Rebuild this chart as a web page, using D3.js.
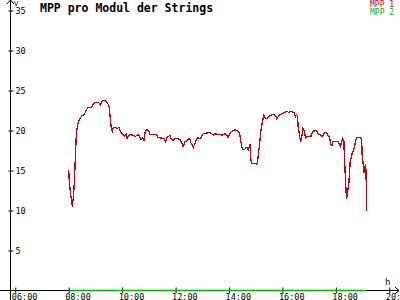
<!DOCTYPE html>
<html><head><meta charset="utf-8">
<script src="https://cdn.jsdelivr.net/npm/d3@7"></script>
<style>body{margin:0;background:#fff}svg{display:block}text{font-family:"DejaVu Sans Mono",monospace}</style>
</head><body><svg id="c" width="400" height="300"></svg>
<script>
const title = "MPP pro Modul der Strings";
const seriesNames = ["MPP 1", "MPP 2"];
const seriesColors = ["#c8000a", "#00b400"];
const yTicks = [5, 10, 15, 20, 25, 30, 35];
const xTicks = [360, 480, 600, 720, 840, 960, 1080, 1200];
const xTickLabels = ["06:00","08:00","10:00","12:00","14:00","16:00","18:00","20:00"];
// minutes since midnight
const minutes = [480,481,483,485,487,488,491,493,495,497,500,502,506,511,515,520,524,531,535,540,547,551,556,560,565,569,571,574,576,578,580,585,589,593,596,600,605,609,611,614,618,625,629,634,636,639,642,645,647,649,652,656,660,663,677,679,682,694,697,701,707,710,714,718,725,729,733,737,741,744,748,752,754,760,763,767,771,775,778,782,797,801,805,808,816,820,824,828,831,835,838,840,843,847,853,857,860,864,866,869,872,875,878,881,883,885,887,889,891,900,902,904,906,908,910,912,915,918,921,925,929,932,941,944,947,951,955,959,966,970,974,977,986,989,991,994,995,999,1001,1003,1006,1009,1012,1014,1024,1025,1029,1034,1037,1040,1044,1048,1051,1055,1059,1062,1066,1068,1071,1073,1086,1088,1090,1093,1095,1098,1099,1101,1103,1104,1106,1109,1110,1112,1115,1117,1119,1122,1125,1127,1136,1138,1139,1142,1143,1145,1147,1148,1149];
const mpp1 = [15.1,13.9,12.6,11.75,11.0,10.5,12.0,13.9,16.75,19.5,20.75,21.1,21.6,21.9,22.0,22.6,22.9,22.9,23.25,23.5,23.5,23.25,23.75,23.75,23.6,23.25,22.9,21.1,20.1,19.9,20.4,20.4,20.25,20.4,19.9,19.6,19.25,19.5,19.0,19.4,19.5,19.4,19.25,19.4,19.5,19.25,18.9,19.1,19.0,18.75,19.9,20.1,19.9,19.5,19.5,19.25,19.1,19.0,18.6,19.1,19.4,19.0,18.75,19.0,19.0,18.9,18.6,18.0,18.6,18.6,18.9,19.0,18.5,17.9,18.25,19.0,19.1,19.0,19.25,19.6,19.75,19.6,19.4,19.6,19.5,19.5,19.4,19.5,19.6,19.4,19.1,19.4,19.75,19.9,20.1,20.0,19.9,19.6,18.75,17.9,17.6,17.6,17.9,17.9,17.6,17.9,18.25,16.4,15.9,15.9,15.75,16.1,17.0,18.0,19.1,20.1,21.1,21.9,21.6,21.5,21.75,21.9,22.0,21.9,21.5,21.75,22.0,22.1,22.25,22.4,22.25,22.4,22.25,21.75,22.0,21.9,20.6,19.1,18.6,19.1,20.25,19.9,19.1,19.25,19.25,19.5,19.9,20.0,19.9,19.6,19.5,19.25,19.4,19.75,19.75,19.4,19.1,18.4,18.1,18.6,18.6,18.25,18.0,18.6,19.0,18.6,17.0,14.5,12.25,11.4,12.25,13.25,14.25,16.0,16.75,17.25,17.4,18.0,18.9,19.1,19.1,18.75,17.0,15.4,14.75,15.5,15.75,14.1,9.9];
const mpp2Times = [480, 1149];
const mpp2 = [0, 0];

const svg = d3.select("#c");
const x = d3.scaleLinear().domain([360, 1200]).range([15.3, 389.3]);
const y = d3.scaleLinear().domain([0, 35]).range([290.5, 10.5]);

// y axis
const ya = svg.append("g").attr("transform", "translate(10.5,0)")
  .call(d3.axisLeft(y).tickValues(yTicks).tickSizeOuter(0).tickSizeInner(0).tickFormat(d3.format("d")));
ya.select(".domain").remove();
ya.selectAll(".tick line").attr("x1", -2).attr("x2", 3).attr("stroke", "#000");
ya.selectAll(".tick text").attr("x", 5).attr("text-anchor", "start").attr("font-size", 8.5).attr("dy", "0.35em").attr("fill", "#000");
svg.append("line").attr("x1", 10.5).attr("x2", 10.5).attr("y1", 0).attr("y2", 300).attr("stroke", "#000");
svg.append("path").attr("d", "M7,4 L10.5,0 L14,4").attr("fill", "none").attr("stroke", "#000");

// x axis
const xa = svg.append("g").attr("transform", "translate(0,290.5)")
  .call(d3.axisBottom(x).tickValues(xTicks).tickSizeOuter(0).tickSizeInner(0).tickFormat((d, i) => xTickLabels[i]));
xa.select(".domain").remove();
xa.selectAll(".tick line").attr("y1", -3).attr("y2", 3).attr("stroke", "#000");
xa.selectAll(".tick text").attr("x", -4).attr("y", 9).attr("dy", 0).attr("text-anchor", "start").attr("font-size", 8.5).attr("fill", "#000");
svg.append("line").attr("x1", 0).attr("x2", 399).attr("y1", 290.5).attr("y2", 290.5).attr("stroke", "#000");
svg.append("path").attr("d", "M395,287 L399,290.5 L395,294").attr("fill", "none").attr("stroke", "#000");

// axis units
svg.append("text").attr("x", 14).attr("y", 6).attr("font-size", 7).text("V");
svg.append("text").attr("x", 385).attr("y", 285).attr("font-size", 9).text("h");

// series
const line = d3.line().x(d => x(d[0])).y(d => y(d[1]));
svg.append("path").datum(mpp2Times.map((t, i) => [t, mpp2[i]]))
  .attr("d", line).attr("fill", "none").attr("stroke", seriesColors[1]).attr("stroke-width", 1.3);
svg.append("path").datum(minutes.map((t, i) => [t, mpp1[i]]))
  .attr("d", line).attr("fill", "none").attr("stroke", seriesColors[0]).attr("stroke-width", 1.3)
  .attr("shape-rendering", "crispEdges");

// title
svg.append("text").attr("x", 40).attr("y", 12).attr("font-size", 11.5).attr("font-weight", "bold").text(title);

// legend
seriesNames.forEach((n, i) => {
  svg.append("text").attr("x", 370).attr("y", 7 + i * 8).attr("font-size", 8).attr("fill", seriesColors[i]).text(n);
});
</script></body></html>
